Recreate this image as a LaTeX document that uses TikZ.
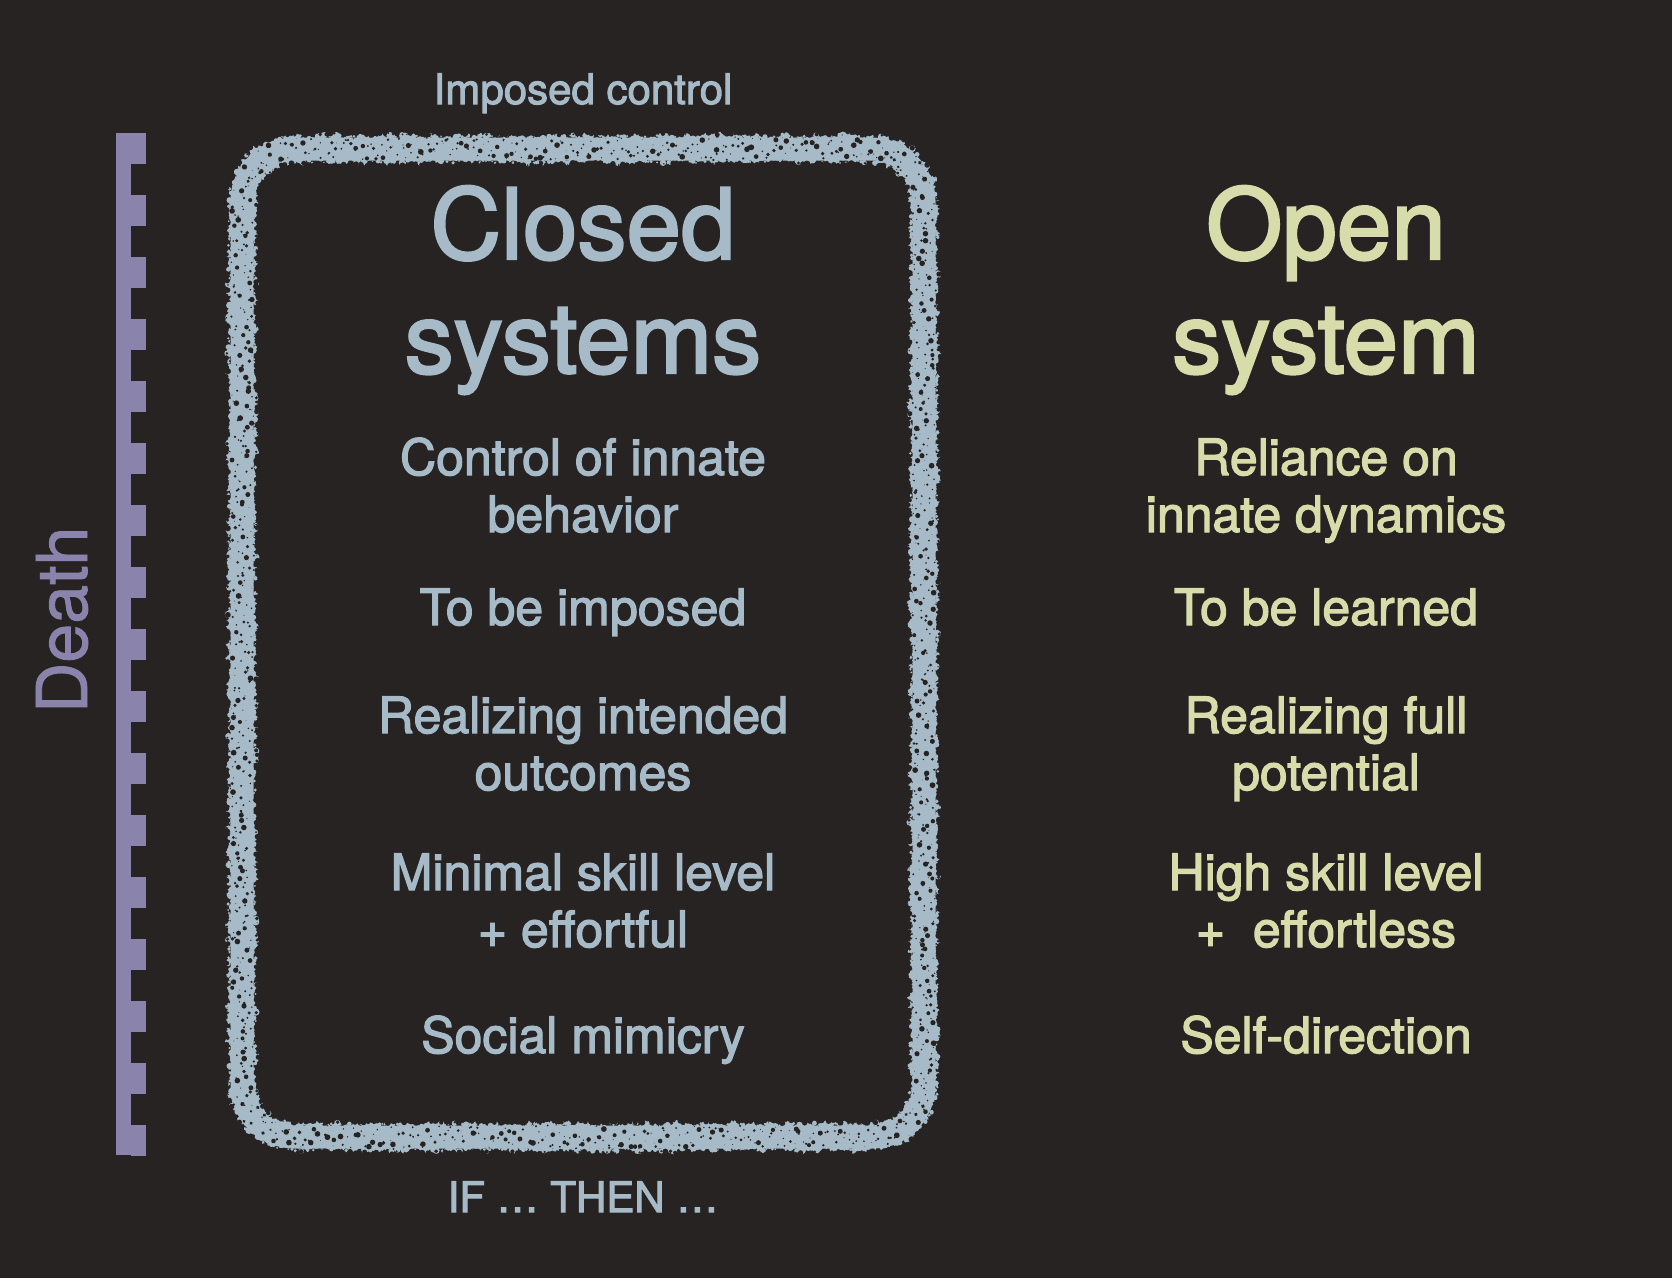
\documentclass[tikz,border=0pt]{standalone}
\usepackage{fontspec}
\setmainfont[FakeBold=2.4]{TeX Gyre Heros}
\newfontfamily\deathfont[FakeBold=1.2]{TeX Gyre Heros}
\usetikzlibrary{decorations.markings}

\definecolor{bg}{HTML}{272323}
\definecolor{chalk}{HTML}{A6BBC7}
\definecolor{lime}{HTML}{D6DCAA}
\definecolor{lilac}{HTML}{8A84AC}

\tikzset{
  lbl/.style={align=center, anchor=base, inner sep=0pt},
  closedtxt/.style={lbl, text=chalk, font=\fontsize{50bp}{57bp}\selectfont},
  opentxt/.style={lbl, text=lime, font=\fontsize{50bp}{57bp}\selectfont},
  closedtitle/.style={lbl, text=chalk, font=\fontsize{98bp}{114bp}\selectfont},
  opentitle/.style={lbl, text=lime, font=\fontsize{98bp}{114bp}\selectfont},
  smalltxt/.style={lbl, text=chalk, font=\fontsize{42bp}{47bp}\selectfont},
  % chalk texture laid along the frame: ragged rims, bitten edges, dark grain
  chalkedge/.style={
    decoration={markings,
      mark=between positions 0 and 1 step 3bp with {
        \fill[chalk] (0pt,{11.5bp+rand*2.5bp}) circle[radius={0.9bp+rnd*2.8bp}]
                     (0pt,{-11.5bp+rand*2.5bp}) circle[radius={0.9bp+rnd*2.8bp}];
      }},
    postaction={decorate}},
  chalkbite/.style={
    decoration={markings,
      mark=between positions 0 and 1 step 4.5bp with {
        \fill[bg] ({rand*1bp},{14bp+rnd*3bp}) circle[radius={0.5bp+rnd*2.6bp}]
                  ({rand*1bp},{-14bp-rnd*3bp}) circle[radius={0.5bp+rnd*2.6bp}];
      }},
    postaction={decorate}},
  chalkspeck/.style={
    decoration={markings,
      mark=between positions 0 and 1 step 5bp with {
        \fill[bg] ({rand*2bp},{rand*10bp}) circle[radius={0.7bp+rnd*2.2bp}]
                  ({rand*2bp},{rand*12bp}) circle[radius={0.3bp+rnd*1bp}];
      }},
    postaction={decorate}},
}

\begin{document}
\begin{tikzpicture}[x=1bp, y=-1bp]
  \pgfmathsetseed{4217}
  \fill[bg] (0,0) rectangle (1672,1278);
  \useasboundingbox (0,0) rectangle (1672,1278);

  % ruler with teeth on the left
  \fill[lilac] (116,133) rectangle (131,1155);
  \foreach \k in {0,...,16}{
    \fill[lilac] (131,{133+62*\k}) rectangle (146,{164+62*\k});
  }
  \node[rotate=90, anchor=base, inner sep=0pt, text=lilac,
        font=\deathfont\fontsize{70bp}{80bp}\selectfont] (death) at (87,620) {Death};

  % chalk frame round the closed column
  \def\framepath{(242,600) -- (242,1137) -- (924,1137) -- (924,149) -- (242,149) -- cycle}
  \draw[chalk, line width=23bp, rounded corners=52bp] \framepath;
  \path[rounded corners=52bp, chalkedge] \framepath;
  \path[rounded corners=52bp, chalkbite] \framepath;
  \path[rounded corners=52bp, chalkspeck] \framepath;

  % captions above and below the frame
  \node[smalltxt] (imposed) at (583,104) {Imposed control};
  \node[smalltxt] (ifthen) at (583,1212) {IF \dots{} THEN \dots};

  % closed column (multi-line nodes sit on their last baseline)
  \node[closedtitle] (closed) at (583,373) {Closed\\systems};
  \node[closedtxt] (c1) at (583,532) {Control of innate\\behavior};
  \node[closedtxt] (c2) at (583,625) {To be imposed};
  \node[closedtxt] (c3) at (583,790) {Realizing intended\\outcomes};
  \node[closedtxt] (c4) at (583,947) {Minimal skill level\\+ effortful};
  \node[closedtxt] (c5) at (583,1053) {Social mimicry};

  % open column
  \node[opentitle] (open) at (1326,373) {Open\\system};
  \node[opentxt] (o1) at (1326,532) {Reliance on\\innate dynamics};
  \node[opentxt] (o2) at (1326,625) {To be learned};
  \node[opentxt] (o3) at (1326,790) {Realizing full\\potential};
  \node[opentxt] (o4) at (1326,947) {High skill level\\+\ \ effortless};
  \node[opentxt] (o5) at (1326,1053) {Self-direction};
\end{tikzpicture}
\end{document}
